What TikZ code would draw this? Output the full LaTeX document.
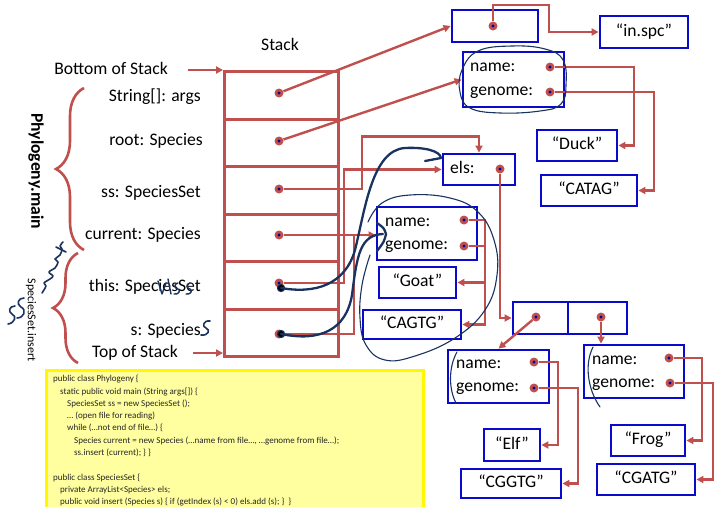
\documentclass[tikz,border=0pt]{standalone}
\usepackage{fontspec}
\setmainfont{Carlito}
\usetikzlibrary{arrows.meta,decorations.pathreplacing,calc}

\definecolor{linkred}{RGB}{192,80,77}
\definecolor{boxblue}{RGB}{10,10,205}
\definecolor{ptrblue}{RGB}{0,0,160}
\definecolor{ink}{RGB}{25,50,95}
\definecolor{notefill}{RGB}{255,255,160}
\definecolor{noteedge}{RGB}{255,248,0}

\tikzset{
  lbl/.style={font=\fontsize{17.6}{20}\selectfont, inner sep=0, text height=12pt, text depth=3.5pt},
  cell/.style={draw=linkred, line width=3pt, minimum width=114pt, minimum height=47.5pt,
    inner sep=0, anchor=north west},
  obj/.style={draw=boxblue, line width=2.8pt, inner sep=0, text height=12pt, text depth=3.5pt,
    font=\fontsize{17.6}{20}\selectfont},
  ptr/.style={circle, fill=linkred, minimum size=9pt, inner sep=0,
    path picture={\fill[ptrblue] (path picture bounding box.center) circle (1.6pt);}},
  link/.style={draw=linkred, line width=2.4pt},
  arr/.style={link, -{Triangle[length=7pt,width=7pt]}},
  curly/.style={draw=linkred, line width=2.6pt, decorate,
    decoration={brace, amplitude=#1}},
  ink/.style={draw=ink, line width=1.1pt, line cap=round, line join=round},
  inkthick/.style={draw=ink, line width=2.3pt, line cap=round, line join=round},
  code/.style={font=\fontsize{9}{12.3}\selectfont, align=left, inner sep=0, text=black!85}
}

\begin{document}
\begin{tikzpicture}[x=1pt, y=-1pt]
\useasboundingbox (0,0) rectangle (719,506);

% ---------- the run-time stack ----------
\node[lbl] (stk) at (280,46) {Stack};
\node[cell] (c1) at (223,70) {};
\node[cell] (c2) at (223,117.5) {};
\node[cell] (c3) at (223,165) {};
\node[cell] (c4) at (223,212.5) {};
\node[cell] (c5) at (223,260) {};
\node[cell] (c6) at (223,307.5) {};

\node[ptr] (d1) at (279,93) {};
\node[ptr] (d2) at (279,141) {};
\node[ptr] (d3) at (279,189) {};
\node[ptr] (d4) at (279,235) {};
\node[ptr] (d5) at (279,283) {};
\node[ptr] (d6) at (279,334) {};

\node[lbl, anchor=east] (l1) at (201,97) {String[]: args};
\node[lbl, anchor=east] (l2) at (203,141) {root: Species};
\node[lbl, anchor=east] (l3) at (201,193) {ss: SpeciesSet};
\node[lbl, anchor=east] (l4) at (201,235) {current: Species};
\node[lbl, anchor=east] (l5) at (201,287) {this: SpeciesSet};
\node[lbl, anchor=east] (l6) at (201,331) {s: Species};

\node[lbl, anchor=east] (bos) at (168,70) {Bottom of Stack};
\node[lbl, anchor=east] (tos) at (178,353) {Top of Stack};
\draw[arr] ([xshift=20pt]bos.east) -- (c1.north west);
\draw[arr] ([xshift=15pt]tos.east) -- (c6.south west |- tos.east);

% frames of the two method calls
\draw[curly=28pt] (84,250) -- (84,88);
\draw[curly=25pt] (78,363) -- (78,253);
\node[font=\fontsize{17.6}{20}\selectfont\bfseries, rotate=-90, inner sep=0] (fmain) at (36,171) {Phylogeny.main};
\node[font=\fontsize{12}{14}\selectfont, rotate=-90, inner sep=0] (fins) at (31,320) {SpeciesSet.insert};

% ---------- heap objects ----------
\node[obj, minimum width=86pt, minimum height=32pt] (argsbox) at (495,26) {};
\node[ptr] (ad) at (493,26) {};
\node[obj, minimum width=88pt, minimum height=32pt] (inspc) at (644,32) {“in.spc”};

\node[obj, minimum width=101pt, minimum height=55pt] (ducksp) at (513.5,79.5) {};
\node[lbl, anchor=west] (dnt) at (470,67) {name:};
\node[lbl, anchor=west] (dgt) at (470,91) {genome:};
\node[ptr] (dn) at (550,67) {};
\node[ptr] (dg) at (550,92) {};
\node[obj, minimum width=80pt, minimum height=31pt] (duck) at (577,145.5) {“Duck”};
\node[obj, minimum width=96pt, minimum height=31pt] (catag) at (589,190.5) {“CATAG”};

\node[obj, minimum width=72pt, minimum height=31pt] (els) at (479,169.5) {};
\node[lbl, anchor=west] (elst) at (450,169) {els:};
\node[ptr] (ed) at (500,169) {};

\node[obj, minimum width=100pt, minimum height=53pt] (goatsp) at (427,233.5) {};
\node[lbl, anchor=west] (gnt) at (385,222) {name:};
\node[lbl, anchor=west] (ggt) at (385,245) {genome:};
\node[ptr] (gn) at (464,220) {};
\node[ptr] (gg) at (464,246) {};
\node[obj, minimum width=77pt, minimum height=31pt] (goat) at (417.5,282.5) {“Goat”};
\node[obj, minimum width=98pt, minimum height=29pt] (cagtg) at (412,324.5) {“CAGTG”};

\node[obj, minimum width=55pt, minimum height=32pt] (arrL) at (540.5,318) {};
\node[obj, minimum width=59pt, minimum height=32pt] (arrR) at (597.5,318) {};
\node[ptr] (a1) at (536,317) {};
\node[ptr] (a2) at (601,317) {};

\node[obj, minimum width=101pt, minimum height=53pt] (elfsp) at (498.5,376.5) {};
\node[lbl, anchor=west] (ent) at (456,364) {name:};
\node[lbl, anchor=west] (egt) at (456,387) {genome:};
\node[ptr] (en) at (534,362) {};
\node[ptr] (eg) at (534,388) {};
\node[obj, minimum width=56pt, minimum height=32pt] (elf) at (512,445) {“Elf”};
\node[obj, minimum width=100pt, minimum height=29pt] (cggtg) at (511,483.5) {“CGGTG”};

\node[obj, minimum width=100pt, minimum height=53pt] (frogsp) at (634,371.5) {};
\node[lbl, anchor=west] (fnt) at (592,360) {name:};
\node[lbl, anchor=west] (fgt) at (592,383) {genome:};
\node[ptr] (fn) at (669,358) {};
\node[ptr] (fg) at (670,383) {};
\node[obj, minimum width=74pt, minimum height=31pt] (frog) at (648,440.5) {“Frog”};
\node[obj, minimum width=98pt, minimum height=31pt] (cgatg) at (646,479.5) {“CGATG”};

% ---------- references ----------
\draw[arr] (d1) -- (argsbox.west);
\draw[arr] (ad) |- (549,5) |- (inspc.west);
\draw[arr] (d2) -- (ducksp.west);
\draw[arr] (dn) -- (634,67) |- (duck.east);
\draw[arr] (dg) -- (654,92) |- (catag.east);
\draw[arr] (d3) -- (362,189) |- ([yshift=16pt]els.north) -- (els.north);
\draw[arr] (d5) -- (344,283) |- (els.west);
\draw[link] (d6) -- (354,334) -- (354,235);
\draw[arr] (d4) -- (d4 -| goatsp.west);
\draw[arr] (gn) -- (485,220) |- (goat.east);
\draw[arr] (gg) -- (485,246) |- (cagtg.east);
\draw[arr] (ed) |- (arrL.west);
\draw[arr] (a1) -- (elfsp.north);
\draw[arr] (a2) -- (a2 |- frogsp.north);
\draw[arr] (en) -- (558,362) |- (elf.east);
\draw[arr] (eg) -- (578,388) |- (cggtg.east);
\draw[arr] (fn) -- (702,358) |- (frog.east);
\draw[arr] (fg) -- (713,383) |- (cgatg.east);

% ---------- source code ----------
\begin{scope}
\clip (0,0) rectangle (719,506);
\fill[notefill] (46,370) rectangle (423,515);
\draw[noteedge, line width=3pt] (46,515) -- (46,370) -- (423,370) -- (423,515);
\end{scope}
\node[code, anchor=north west] (src) at (53,375) {%
public class Phylogeny \{\\
\hspace*{7pt}static public void main (String args[]) \{\\
\hspace*{14pt}SpeciesSet ss = new SpeciesSet ();\\
\hspace*{14pt}… (open file for reading)\\
\hspace*{14pt}while (…not end of file…) \{\\
\hspace*{21pt}Species current = new Species (…name from file…, …genome from file…);\\
\hspace*{21pt}ss.insert (current); \} \}\\[12.3pt]
public class SpeciesSet \{\\
\hspace*{7pt}private ArrayList<Species> els;\\
\hspace*{7pt}public void insert (Species s) \{ if (getIndex (s) < 0) els.add (s); \}\ \ \}};

% ---------- pen annotations ----------
\draw[ink] plot[smooth cycle, tension=0.7] coordinates
  {(478,51) (512,46) (545,49) (563,60) (566,85) (561,104) (540,111) (500,113) (470,108) (460,92) (462,70)};
\draw[ink] plot[smooth, tension=0.7] coordinates
  {(368,222) (382,203) (410,195) (450,198) (478,212) (494,240) (497,275) (485,310) (455,338) (415,356) (385,360) (366,345) (360,318) (362,285) (370,255)};
\draw[ink] (457,352) .. controls (448,368) and (449,390) .. (456,403);
\draw[ink] (593,347) .. controls (584,365) and (588,390) .. (600,407);

\fill[ink] (281,288) circle (3.6pt);
\fill[ink] (281,334) circle (3.6pt);
\draw[inkthick] (281,288) .. controls (315,294) and (345,285) .. (355,250)
  .. controls (365,210) and (372,150) .. (405,148)
  .. controls (425,147) and (440,151) .. (441,158) -- (425,161);
\draw[inkthick] (281,334) .. controls (320,342) and (346,330) .. (352,295)
  .. controls (357,255) and (360,235) .. (383,234);
\draw[inkthick] (377,223) .. controls (384,228) .. (386,234) .. controls (384,242) .. (377,251);

% handwriting next to the frame labels
\draw[ink, line width=1.6pt] plot[smooth, tension=0.6] coordinates
  {(42,293) (46,286) (44,283) (50,279) (53,276) (49,272) (55,268) (58,262) (55,259) (60,255) (62,249) (60,246) (63,242)};
\draw[ink, line width=1.6pt] (56,247) -- (66,252);
\draw[ink, line width=1.6pt] (24,298) .. controls (18,298) and (16,304) .. (21,307) .. controls (27,310) and (24,318) .. (17,318);
\draw[ink, line width=1.6pt] (15,306) .. controls (9,306) and (8,312) .. (12,314) .. controls (17,316) and (15,323) .. (8,324);
\draw[ink, line width=1.4pt] (158,281) -- (162,294) -- (166,283);
\draw[ink, line width=1.4pt] (168,279) -- (171,294);
\draw[ink, line width=1.4pt] (178,283) .. controls (173,284) and (175,289) .. (178,289) .. controls (181,290) and (179,295) .. (174,294);
\draw[ink, line width=1.4pt] (190,283) .. controls (185,284) and (187,289) .. (190,289) .. controls (193,290) and (191,295) .. (186,294);
\draw[ink, line width=1.6pt] (210,321) .. controls (203,320) and (202,327) .. (206,328) .. controls (211,330) and (208,336) .. (201,335);
\end{tikzpicture}
\end{document}
